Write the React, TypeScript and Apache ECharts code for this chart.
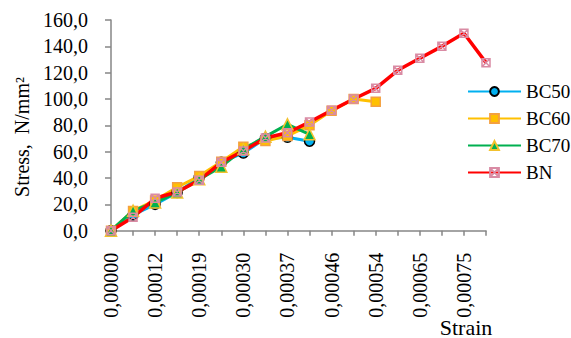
import React, { useEffect, useRef } from "react";
import * as echarts from "echarts";

const categories = [
  "0,00000", "0,00006", "0,00012", "0,00016", "0,00019", "0,00024",
  "0,00030", "0,00034", "0,00037", "0,00042", "0,00046", "0,00050",
  "0,00054", "0,00060", "0,00065", "0,00070", "0,00075", "0,00080",
];
const bc50 = [0, 12, 20, 29, 40.5, 52, 59, 70, 71, 68];
const bc60 = [0, 15, 23, 33, 41.5, 52.4, 63.8, 68.1, 72, 80, 91, 100, 98];
const bc70 = [0, 15.2, 21.5, 29, 39, 48.6, 62, 71.4, 80.8, 73.2];
const bn = [0, 10.2, 24.6, 29.4, 38.3, 51.9, 60.5, 70.4, 74.4, 82.5, 91.4, 100, 108.1, 121.8, 130.9, 140, 149.9, 127.6];
const yMin = 0;
const yMax = 160;
const yStep = 20;
const yAxisTitle = "Stress,  N/mm²";
const xAxisTitle = "Strain";

const FONT = "Liberation Serif";
const X_SYMBOL = "path://M0,0H10V10H0Z M0,0L10,10 M10,0L0,10";

export default function App() {
  const ref = useRef<HTMLDivElement>(null);
  useEffect(() => {
    if (!ref.current) return;
    const chart = echarts.init(ref.current, undefined, { renderer: "svg" });
    const axisLine = { lineStyle: { color: "#868686", width: 1.5 } };
    chart.setOption({
      animation: false,
      backgroundColor: "#ffffff",
      textStyle: { fontFamily: FONT },
      grid: { left: 111, top: 20, width: 375, height: 210.7 },
      legend: {
        orient: "vertical",
        left: 467,
        top: 82,
        padding: 0,
        itemWidth: 53,
        itemHeight: 11,
        itemGap: 8,
        textStyle: { fontFamily: FONT, fontSize: 19, color: "#000" },
        data: ["BC50", "BC60", "BC70", "BN"],
      },
      xAxis: {
        type: "category",
        data: categories,
        boundaryGap: false,
        axisLine,
        axisTick: { show: true, interval: 0, length: 5, lineStyle: { color: "#868686", width: 1.5 } },
        axisLabel: {
          interval: 1,
          rotate: 90,
          margin: 22,
          fontFamily: FONT,
          fontSize: 20,
          color: "#000",
        },
        splitLine: { show: false },
      },
      yAxis: {
        type: "value",
        min: yMin,
        max: yMax,
        interval: yStep,
        axisLine: { show: true, ...axisLine },
        axisTick: { show: true, length: 6, lineStyle: { color: "#868686", width: 1.5 } },
        axisLabel: {
          margin: 23,
          fontFamily: FONT,
          fontSize: 20,
          color: "#000",
          formatter: (v: number) => v.toFixed(1).replace(".", ","),
        },
        splitLine: { show: false },
      },
      graphic: [
        {
          type: "text",
          x: 22,
          y: 137,
          rotation: Math.PI / 2,
          style: {
            text: yAxisTitle,
            fontFamily: FONT,
            fontSize: 20,
            fill: "#000",
            align: "center",
            verticalAlign: "middle",
          },
        },
        {
          type: "text",
          x: 466,
          y: 327,
          style: {
            text: xAxisTitle,
            fontFamily: FONT,
            fontSize: 22,
            fill: "#000",
            align: "center",
            verticalAlign: "middle",
          },
        },
      ],
      series: [
        {
          name: "BC50",
          type: "line",
          data: bc50,
          symbol: "circle",
          symbolSize: 10,
          lineStyle: { color: "#00B0F0", width: 3 },
          itemStyle: { color: "#00B0F0", borderColor: "#000", borderWidth: 1.5 },
        },
        {
          name: "BC60",
          type: "line",
          data: bc60,
          symbol: "rect",
          symbolSize: 9,
          lineStyle: { color: "#FFC000", width: 3 },
          itemStyle: { color: "#FFC000", borderColor: "#F4A040", borderWidth: 1.5 },
        },
        {
          name: "BC70",
          type: "line",
          data: bc70,
          symbol: "triangle",
          symbolSize: 11,
          lineStyle: { color: "#00B050", width: 3 },
          itemStyle: { color: "#00B050", borderColor: "#F2C12E", borderWidth: 1.5 },
        },
        {
          name: "BN",
          type: "line",
          data: bn,
          symbol: X_SYMBOL,
          symbolSize: 8,
          lineStyle: { color: "#FF0000", width: 3.5 },
          itemStyle: { color: "rgba(255,0,0,0)", borderColor: "#D98BA4", borderWidth: 1.5 },
        },
      ],
    });
    return () => chart.dispose();
  }, []);
  return (
    <div
      ref={ref}
      style={{ position: "fixed", left: 0, top: 0, width: 571, height: 338, background: "#fff" }}
    />
  );
}
